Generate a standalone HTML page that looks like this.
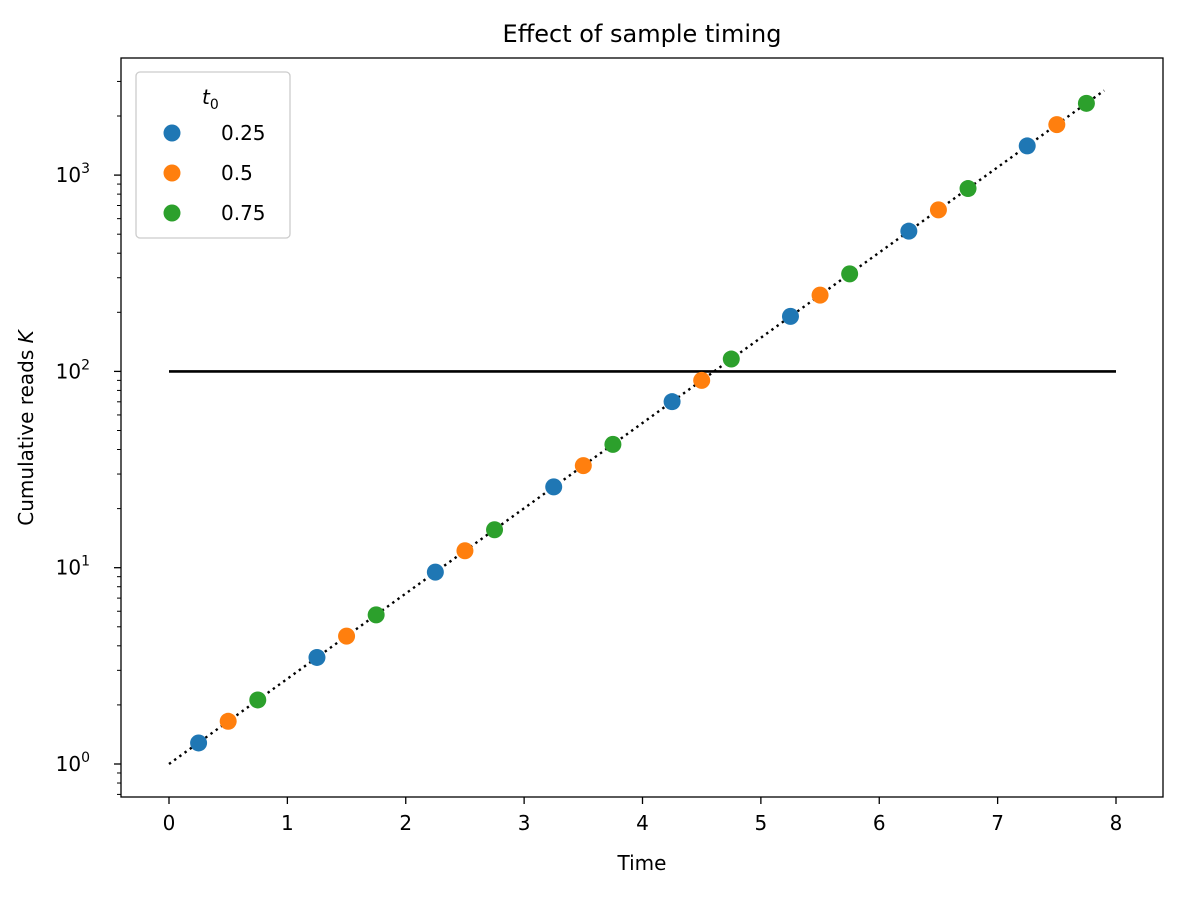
<!DOCTYPE html>
<html><head><meta charset="utf-8"><style>
body{margin:0;background:#fff}
svg{font-family:"DejaVu Sans","Liberation Sans",sans-serif}
</style></head><body>
<svg id="chart" width="1182" height="898" viewBox="0 0 1182 898">
<text x="642" y="42" font-size="24" text-anchor="middle">Effect of sample timing</text>
<text x="642" y="870" font-size="20" text-anchor="middle">Time</text>
<text transform="translate(33,428) rotate(-90)" font-size="20" text-anchor="middle">Cumulative reads <tspan font-style="italic">K</tspan></text>
<g id="axes"></g>
<g id="marks"></g>
<rect x="121" y="58" width="1042" height="739" fill="none" stroke="#000" stroke-width="1.3"/>
<g>
<rect x="136" y="72" width="154" height="166" rx="4" fill="#fff" fill-opacity="0.8" stroke="#ccc" stroke-width="1.3"/>
<text x="202" y="104" font-size="20" font-style="italic">t<tspan font-size="14" dy="5" font-style="normal">0</tspan></text>
<g><circle cx="172" cy="133" r="8.5" fill="#1f77b4"/><text x="221" y="140" font-size="20">0.25</text></g>
<g><circle cx="172" cy="173" r="8.5" fill="#ff7f0e"/><text x="221" y="180" font-size="20">0.5</text></g>
<g><circle cx="172" cy="213" r="8.5" fill="#2ca02c"/><text x="221" y="220" font-size="20">0.75</text></g>
</g>
</svg>
<script>
const xTicks=[0,1,2,3,4,5,6,7,8];
const yDecades=[0,1,2,3];
const tBlue=[0.25,1.25,2.25,3.25,4.25,5.25,6.25,7.25];
const kBlue=[1.28,3.49,9.49,25.8,70.1,190.6,518,1408];
const tOrange=[0.5,1.5,2.5,3.5,4.5,5.5,6.5,7.5];
const kOrange=[1.65,4.48,12.2,33.1,90.0,244.7,665,1808];
const tGreen=[0.75,1.75,2.75,3.75,4.75,5.75,6.75,7.75];
const kGreen=[2.12,5.75,15.6,42.5,115.6,314,854,2321];
const fitT=[0,7.9];
const fitK=[1,2697];
const thresholdT=[0,8];
const thresholdK=[100,100];
const NS="http://www.w3.org/2000/svg";
const X=t=>169+t*(1116-169)/8;
const Y=k=>764-Math.log10(k)*196.3;
function mk(tag,attrs,parent){const e=document.createElementNS(NS,tag);for(const a in attrs)e.setAttribute(a,attrs[a]);parent.appendChild(e);return e;}
const axes=document.getElementById('axes'),marks=document.getElementById('marks');
xTicks.forEach(v=>{
 const l=mk('line',{x1:X(v),x2:X(v),y1:797,y2:804,stroke:'#000','stroke-width':1.3},axes);
 
 
 const t=mk('text',{x:X(v),y:830,'font-size':20,'text-anchor':'middle'},axes);t.textContent=v;
 
 
});
yDecades.forEach(d=>{
 const y=Y(Math.pow(10,d));
 const l=mk('line',{x1:114,x2:121,y1:y,y2:y,stroke:'#000','stroke-width':1.3},axes);
 
 
 const t=mk('text',{x:90,y:y+7,'font-size':20,'text-anchor':'end'},axes);
 t.innerHTML='10<tspan font-size="14" dy="-9">'+d+'</tspan>';
 
 
});
for(let d=-1;d<=3;d++)for(let m=2;m<=9;m++){
 const y=Y(m*Math.pow(10,d));if(y<58||y>797)continue;
 const l=mk('line',{x1:117,x2:121,y1:y,y2:y,stroke:'#000','stroke-width':1},axes);
 
 
}
const th=mk('line',{x1:X(thresholdT[0]),x2:X(thresholdT[1]),y1:Y(thresholdK[0]),y2:Y(thresholdK[1]),stroke:'#000','stroke-width':2.6},marks);


const fit=mk('line',{x1:X(fitT[0]),x2:X(fitT[1]),y1:Y(fitK[0]),y2:Y(fitK[1]),stroke:'#000','stroke-width':2.4,'stroke-dasharray':'2.4 4'},marks);


[[tBlue,kBlue,'#1f77b4','0.25'],[tOrange,kOrange,'#ff7f0e','0.5'],[tGreen,kGreen,'#2ca02c','0.75']].forEach(([ts,ks,c,n])=>{
 ts.forEach((t,i)=>{
  const p=mk('circle',{cx:X(t),cy:Y(ks[i]),r:8.5,fill:c},marks);
  
  
 });
});
</script>
</body></html>
